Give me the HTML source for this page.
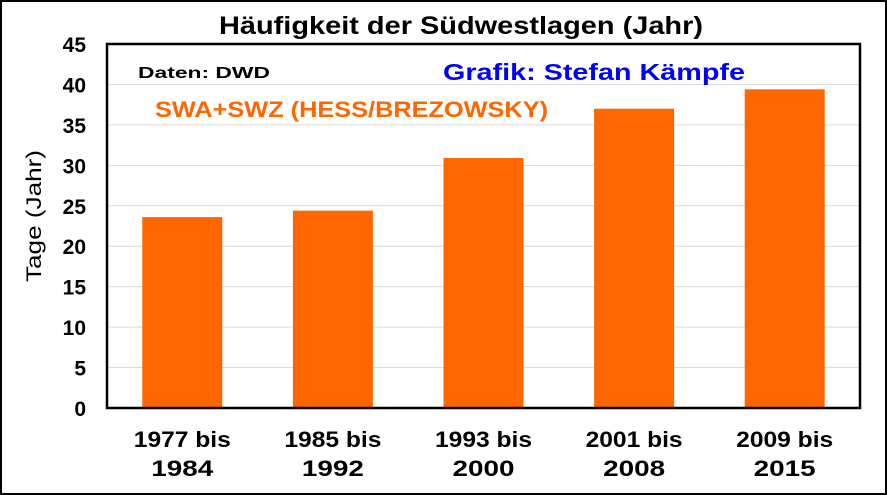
<!DOCTYPE html>
<html><head><meta charset="utf-8"><style>
html,body{margin:0;padding:0;background:#fff}
svg{display:block;font-family:"Liberation Sans",Arial,sans-serif;font-weight:bold}
</style></head><body>
<svg id="chart" width="887" height="495">
<rect x="1" y="1" width="885" height="493" fill="#fff" stroke="#000" stroke-width="2"/>
<text x="219" y="34" font-size="25" textLength="484" lengthAdjust="spacingAndGlyphs">Häufigkeit der Südwestlagen (Jahr)</text>
<g id="grid"></g>
<g id="bars"></g>
<g id="axes"></g>
<text x="138" y="78" font-size="16" textLength="132" lengthAdjust="spacingAndGlyphs">Daten: DWD</text>
<text x="443" y="80" font-size="23" textLength="302" lengthAdjust="spacingAndGlyphs" fill="#0000ff">Grafik: Stefan Kämpfe</text>
<text x="155" y="117" font-size="22" textLength="393" lengthAdjust="spacingAndGlyphs" fill="#ff6600">SWA+SWZ (HESS/BREZOWSKY)</text>
<text transform="translate(41,216) rotate(-90)" font-size="21" font-weight="normal" textLength="132" lengthAdjust="spacingAndGlyphs" text-anchor="middle">Tage (Jahr)</text>
</svg>
<script>
const categories1 = ["1977 bis","1985 bis","1993 bis","2001 bis","2009 bis"];
const categories2 = ["1984","1992","2000","2008","2015"];
const values = [23.6, 24.4, 30.9, 37.0, 39.4];
const yTicks = [0,5,10,15,20,25,30,35,40,45];
const NS="http://www.w3.org/2000/svg";
const L=107,R=860,T=44,B=408,yMax=45;
const y=v=>B-(v/yMax)*(B-T);
const bw=(R-L)/categories1.length;
const x=i=>L+bw*(i+0.5);
function mk(tag,attrs,parent,txt){const e=document.createElementNS(NS,tag);for(const k in attrs)e.setAttribute(k,attrs[k]);if(txt!==undefined)e.textContent=txt;document.getElementById(parent).appendChild(e);return e;}
yTicks.forEach(t=>{
  if(t>0&&t<yMax){const g=mk('line',{x1:L,x2:R,y1:y(t),y2:y(t),stroke:'#d9d9d9','stroke-width':1},'grid');
  
  }
  const tl=mk('text',{x:86,y:y(t)+8,'font-size':21,'text-anchor':'end'},'axes',String(t));
  
  
});
values.forEach((v,i)=>{
  const r=mk('rect',{x:x(i)-40,y:y(v),width:80,height:B-y(v),fill:'#ff6600'},'bars');
  
  
  const a=mk('text',{x:x(i),y:447,'font-size':22,'text-anchor':'middle',textLength:97,lengthAdjust:'spacingAndGlyphs'},'axes',categories1[i]);
  
  
  const b=mk('text',{x:x(i),y:476,'font-size':22,'text-anchor':'middle',textLength:62,lengthAdjust:'spacingAndGlyphs'},'axes',categories2[i]);
  
  
});
const fr=mk('rect',{x:L,y:T,width:R-L,height:B-T,fill:'none',stroke:'#000','stroke-width':2.5},'axes');


</script>
</body></html>
